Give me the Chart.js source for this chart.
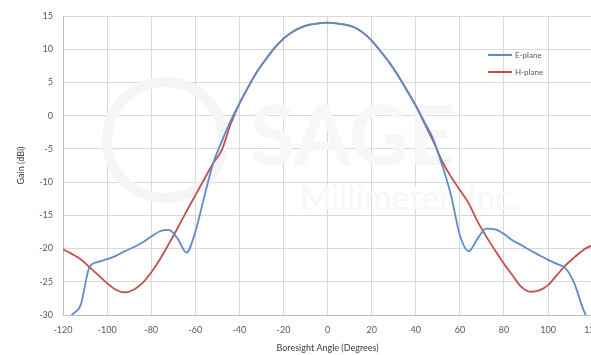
<!DOCTYPE html>
<html>
<head>
<meta charset="utf-8">
<script src="https://cdn.jsdelivr.net/npm/chart.js@4.4.0/dist/chart.umd.min.js"></script>
<style>
    html, body { margin: 0; padding: 0; background: #fff; overflow: hidden; }
    #wrap { width: 591px; height: 355px; overflow: hidden; position: relative; }
    #myChart { position: absolute; left: 0; top: 0; }
</style>
</head>
<body>
<div id="wrap">
    <canvas id="myChart" width="610" height="355"></canvas>
</div>
<script>
// boresight angles, degrees
const angles = [-120, -116, -112, -108, -104, -100, -96, -92, -88, -84, -80, -76, -72, -68, -64, -60, -56, -52, -48, -44, -40, -36, -32, -28, -24, -20, -16, -12, -8, -4,
    0, 4, 8, 12, 16, 20, 24, 28, 32, 36, 40, 44, 48, 52, 56, 60, 64, 68, 72, 76, 80, 84, 88, 92, 96, 100, 104, 108, 112, 116, 120];

// gain, dBi
const ePlane = [-32, -30.0, -28.5, -22.8, -22.0, -21.6, -21.1, -20.4, -19.8, -19.1, -18.2, -17.4, -17.2, -18.5, -20.6, -17.5, -12.3, -7.3, -3.9, -0.8, 1.8, 4.3, 6.6, 8.5, 10.2, 11.6, 12.6, 13.3, 13.7, 13.9,
    14.0, 13.9, 13.7, 13.3, 12.5, 11.3, 9.7, 8.0, 6.0, 3.8, 1.5, -1.0, -3.6, -7.5, -12.0, -18.0, -20.4, -18.5, -17.0, -17.1, -17.8, -18.8, -19.5, -20.3, -21.0, -21.7, -22.3, -23.0, -25.3, -29.2, -32];
const hPlane = [-20.1, -20.8, -21.6, -22.8, -24.0, -25.2, -26.2, -26.6, -26.2, -25.2, -23.6, -21.6, -19.3, -16.9, -14.4, -12.0, -9.6, -7.2, -5.2, -1.3, 1.8, 4.3, 6.6, 8.5, 10.2, 11.6, 12.6, 13.3, 13.7, 13.9,
    14.0, 13.9, 13.7, 13.3, 12.5, 11.3, 9.7, 8.0, 6.0, 3.8, 1.5, -1.2, -3.9, -6.9, -9.2, -11.2, -13.2, -15.9, -18.2, -20.3, -22.3, -24.1, -25.8, -26.5, -26.3, -25.5, -24.0, -22.5, -21.3, -20.2, -19.5];

const xTicks = [-120, -100, -80, -60, -40, -20, 0, 20, 40, 60, 80, 100, 120];
const yTicks = [15, 10, 5, 0, -5, -10, -15, -20, -25, -30];

const seriesNames = ['E-plane', 'H-plane'];
const seriesColors = ['#5b8cc8', '#c0504d'];

const labelFont = { family: 'Lato', size: 9 };
const ctx = document.getElementById('myChart').getContext('2d');

function toPoints(vals) {
    return angles.map((a, i) => ({ x: a, y: vals[i] }));
}

// faint company watermark behind the traces
const watermark = {
    id: 'watermark',
    beforeDatasetsDraw(chart) {
        const c = chart.ctx;
        c.save();
        c.fillStyle = '#f7f7f7';
        c.strokeStyle = '#f5f5f5';
        c.lineWidth = 10;
        c.beginPath();
        c.arc(165, 140, 58, 0, Math.PI * 2);
        c.stroke();
        c.font = 'bold 82px Lato';
        c.textBaseline = 'alphabetic';
        c.fillText('SAGE', 250, 165);
        c.font = '34px Lato';
        c.fillText('Millimeter, Inc.', 300, 210);
        c.restore();
    }
};

// legend drawn inside the plot, top right
const insideLegend = {
    id: 'insideLegend',
    afterDraw(chart) {
        const c = chart.ctx;
        c.save();
        c.font = '8px Lato';
        c.textBaseline = 'middle';
        chart.data.datasets.forEach((ds, i) => {
            const y = 55 + i * 17;
            c.strokeStyle = ds.borderColor;
            c.lineWidth = 2;
            c.beginPath();
            c.moveTo(488, y);
            c.lineTo(512, y);
            c.stroke();
            c.fillStyle = '#595959';
            c.fillText(ds.label, 515, y);
        });
        c.restore();
    }
};

const myChart = new Chart(ctx, {
    type: 'line',
    data: {
        datasets: [
            {
                label: seriesNames[0],
                data: toPoints(ePlane),
                borderColor: seriesColors[0],
                borderWidth: 1.8,
                pointRadius: 0,
                cubicInterpolationMode: 'monotone'
            },
            {
                label: seriesNames[1],
                data: toPoints(hPlane),
                borderColor: seriesColors[1],
                borderWidth: 1.8,
                pointRadius: 0,
                cubicInterpolationMode: 'monotone'
            }
        ]
    },
    options: {
        responsive: false,
        animation: false,
        layout: { padding: { left: 16, top: 16, right: 13, bottom: 0 } },
        plugins: {
            legend: { display: false },
            tooltip: { enabled: false }
        },
        scales: {
            x: {
                type: 'linear',
                min: -120,
                max: 120,
                afterBuildTicks: (scale) => { scale.ticks = xTicks.map(v => ({ value: v })); },
                afterFit: (scale) => { scale.height = 40; },
                grid: { color: '#d9d9d9', drawTicks: false },
                border: { color: '#bfbfbf' },
                ticks: { color: '#595959', font: labelFont, padding: 10, maxRotation: 0 },
                title: { display: true, text: 'Boresight Angle (Degrees)', color: '#404040', font: labelFont, padding: { top: 0, bottom: 2 } }
            },
            y: {
                min: -30,
                max: 15,
                afterBuildTicks: (scale) => { scale.ticks = yTicks.map(v => ({ value: v })); },
                afterFit: (scale) => { scale.width = 47; },
                grid: { color: '#d9d9d9', drawTicks: false },
                border: { color: '#bfbfbf' },
                ticks: { color: '#595959', font: labelFont, padding: 10 },
                title: { display: true, text: 'Gain (dBi)', color: '#404040', font: labelFont, padding: { top: 0, bottom: 0 } }
            }
        }
    },
    plugins: [watermark, insideLegend]
});
</script>
</body>
</html>
